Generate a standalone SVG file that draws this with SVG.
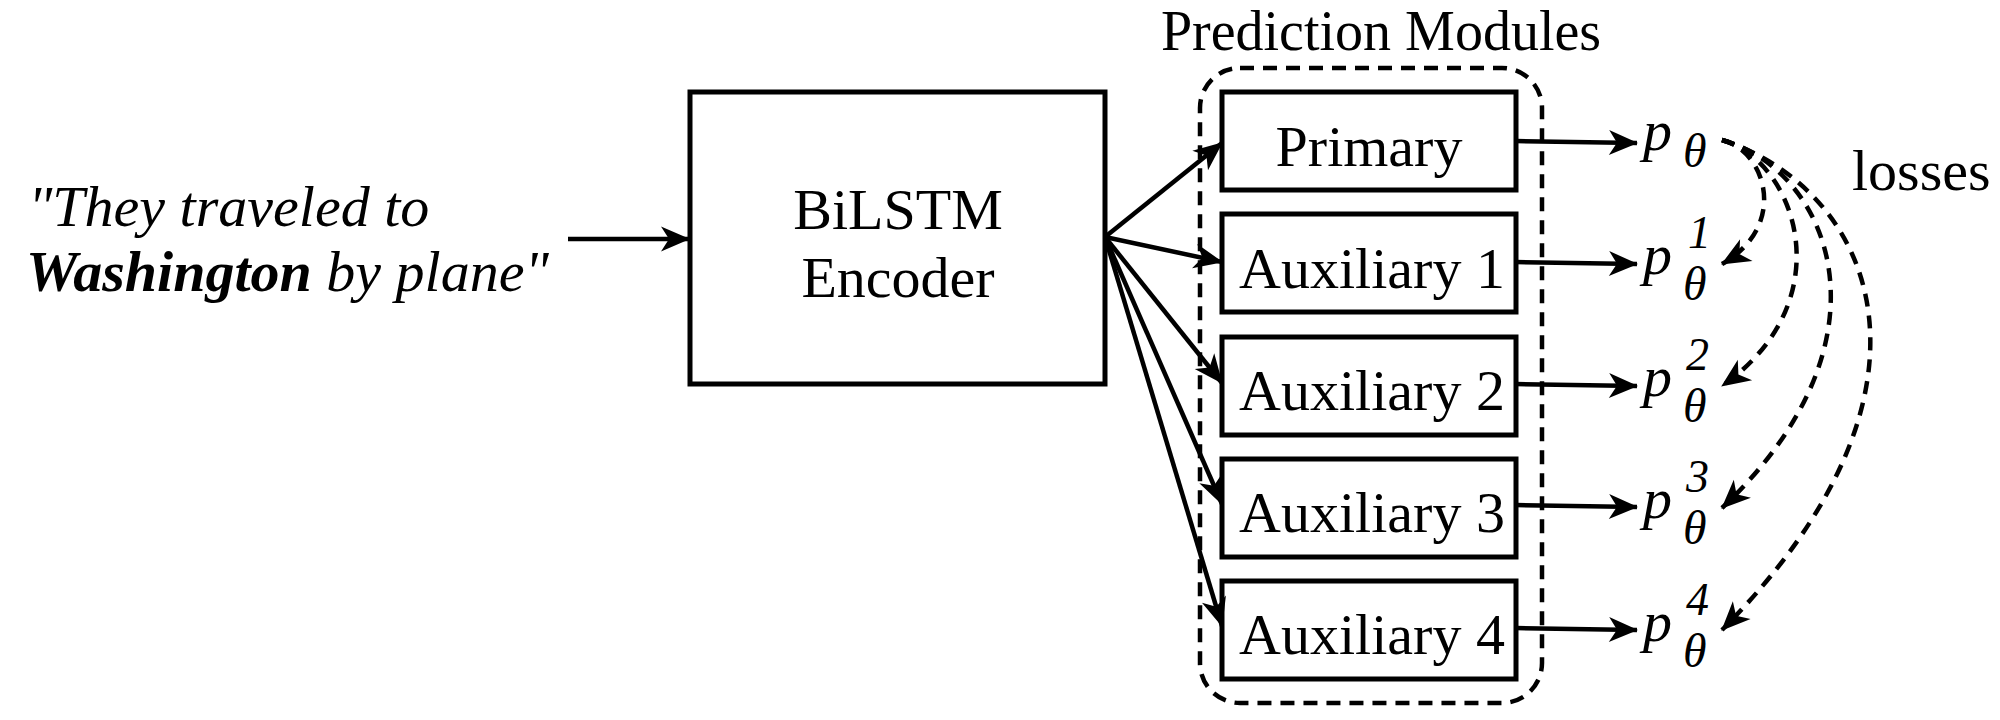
<svg xmlns="http://www.w3.org/2000/svg" width="2000" height="720" viewBox="0 0 2000 720">
<defs>
<marker id="ah" viewBox="-30 -14 32 28" markerWidth="32" markerHeight="28" refX="0" refY="0" orient="auto" markerUnits="userSpaceOnUse">
<path d="M1,0 L-28,-12.5 L-20,0 L-28,12.5 Z" fill="#000"/>
</marker>
</defs>
<style>
text{font-family:"Liberation Serif","Times New Roman",serif;fill:#000}
.lbl{font-size:58px}
.ctr{text-anchor:middle}
.it{font-style:italic}
.box{fill:#fff;stroke:#000;stroke-width:5}
.grp{fill:none;stroke:#000;stroke-width:4.5;stroke-dasharray:14 9}
.arr{fill:none;stroke:#000;stroke-width:4.5;marker-end:url(#ah)}
.loss{fill:none;stroke:#000;stroke-width:4.5;stroke-dasharray:13 9;marker-end:url(#ah)}
.p{font-size:58px;font-style:italic}
.sub{font-size:48px;font-style:italic}
.sup{font-size:46px;font-style:italic}
</style>

<g id="input">
<text class="lbl it" x="28" y="226">"They traveled to</text>
<text class="lbl it" x="26" y="291"><tspan font-weight="bold">Washington</tspan> by plane"</text>
</g>

<g id="encoder">
<rect class="box" x="690" y="92" width="415" height="292"/>
<text class="lbl ctr" x="898" y="229">BiLSTM</text>
<text class="lbl ctr" x="898" y="297">Encoder</text>
</g>

<g id="prediction-modules">
<rect class="grp" x="1200" y="68" width="342" height="635" rx="40" ry="40"/>
<text class="ctr" x="1381" y="50" font-size="56">Prediction Modules</text>
</g>

<g id="primary">
<rect class="box" x="1222" y="92" width="294" height="98"/>
<text class="lbl ctr" x="1369" y="166">Primary</text>
</g>
<g id="aux1">
<rect class="box" x="1222" y="214" width="294" height="98"/>
<text class="lbl ctr" x="1372" y="288">Auxiliary 1</text>
</g>
<g id="aux2">
<rect class="box" x="1222" y="337" width="294" height="98"/>
<text class="lbl ctr" x="1372" y="410">Auxiliary 2</text>
</g>
<g id="aux3">
<rect class="box" x="1222" y="459" width="294" height="98"/>
<text class="lbl ctr" x="1372" y="532">Auxiliary 3</text>
</g>
<g id="aux4">
<rect class="box" x="1222" y="581" width="294" height="98"/>
<text class="lbl ctr" x="1372" y="654">Auxiliary 4</text>
</g>

<g id="p0">
<text class="p" x="1643" y="150">p</text>
<text class="sub" x="1683" y="167">θ</text>
</g>
<g id="p1">
<text class="p" x="1643" y="274">p</text>
<text class="sup" x="1688" y="248">1</text>
<text class="sub" x="1683" y="300">θ</text>
</g>
<g id="p2">
<text class="p" x="1643" y="396">p</text>
<text class="sup" x="1686" y="370">2</text>
<text class="sub" x="1683" y="422">θ</text>
</g>
<g id="p3">
<text class="p" x="1643" y="518">p</text>
<text class="sup" x="1686" y="492">3</text>
<text class="sub" x="1683" y="544">θ</text>
</g>
<g id="p4">
<text class="p" x="1643" y="641">p</text>
<text class="sup" x="1686" y="615">4</text>
<text class="sub" x="1683" y="667">θ</text>
</g>

<g id="losses-label">
<text class="lbl" x="1852" y="190">losses</text>
</g>

<g id="connectors">
<line class="arr" x1="568" y1="239" x2="689" y2="239"/>
<line class="arr" x1="1105" y1="237" x2="1222" y2="143"/>
<line class="arr" x1="1105" y1="237" x2="1222" y2="262"/>
<line class="arr" x1="1105" y1="237" x2="1222" y2="383"/>
<line class="arr" x1="1105" y1="237" x2="1222" y2="504"/>
<line class="arr" x1="1105" y1="237" x2="1222" y2="626"/>
<line class="arr" x1="1516" y1="141" x2="1637" y2="143"/>
<line class="arr" x1="1516" y1="262" x2="1637" y2="264"/>
<line class="arr" x1="1516" y1="384" x2="1637" y2="386"/>
<line class="arr" x1="1516" y1="505" x2="1637" y2="507"/>
<line class="arr" x1="1516" y1="628" x2="1637" y2="630"/>
<path class="loss" d="M1722,140 C1765,150 1790,225 1722,264"/>
<path class="loss" d="M1722,140 C1795,160 1845,300 1722,386"/>
<path class="loss" d="M1722,140 C1830,170 1900,340 1722,508"/>
<path class="loss" d="M1722,140 C1875,190 1960,390 1722,630"/>
</g>
</svg>
